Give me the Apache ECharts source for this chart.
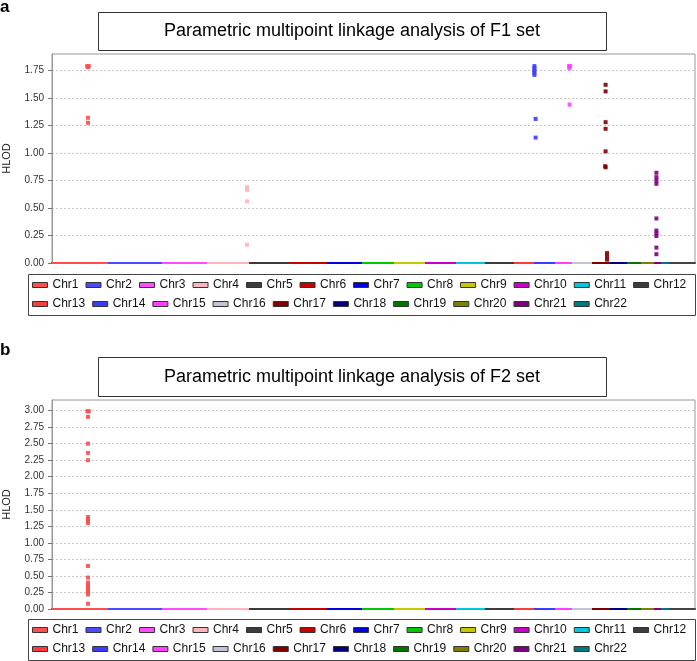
<!DOCTYPE html>
<html><head><meta charset="utf-8">
<script src="https://cdn.jsdelivr.net/npm/echarts@6/dist/echarts.min.js"></script>
<style>html,body{margin:0;padding:0;background:#fff}#c{width:697px;height:661px}</style>
</head><body><div id="c"></div>
<script>
// ---- data ----
const chromosomes = ['Chr1','Chr2','Chr3','Chr4','Chr5','Chr6','Chr7','Chr8','Chr9','Chr10','Chr11','Chr12',
  'Chr13','Chr14','Chr15','Chr16','Chr17','Chr18','Chr19','Chr20','Chr21','Chr22'];
// approximate genetic length of each chromosome (cM) as read from the bottom colored segments
const chrLengths = [280,270,225,210,200,190,175,160,155,155,145,145,100,105,85,100,90,85,70,65,35,40];
const chrColors = ['#ff4c4c','#4c4cff','#ff4cff','#ffb4bc','#3c3c3c','#c80000','#0000e0','#00c800',
  '#c8c800','#c800c8','#00c8dc','#3c3c3c','#ff3a3a','#3c3cff','#ff40ff','#c0c4d8','#800000',
  '#000080','#007800','#808000','#800080','#007880'];
const yTickLabels = ['0.00','0.25','0.50','0.75','1.00','1.25','1.50','1.75','2.00','2.25','2.50','2.75','3.00'];

// F1 set: HLOD peaks [position within chromosome (cM), HLOD]
const f1Chr1  = [[176,1.79],[184,1.79],[180,1.78],[180,1.32],[180,1.275]];
const f1Chr4  = [[200,0.69],[200,0.665],[200,0.56],[200,0.165]];
const f1Chr14 = [[2,1.79],[2,1.77],[2,1.75],[2,1.73],[2,1.71],[8,1.31],[8,1.14]];
const f1Chr15 = [[70,1.79],[76,1.79],[72,1.77],[73,1.44]];
const f1Chr17 = [[68,1.62],[68,1.56],[68,1.28],[68,1.22],[68,1.015],[66,0.88],[68,0.87],[75,0.09],[75,0.06],[75,0.03]];
const f1Chr21 = [[12,0.82],[12,0.78],[12,0.75],[12,0.72],[12,0.405],[12,0.295],[12,0.27],[12,0.245],[12,0.14],[12,0.08]];

// F2 set
const f2Chr1 = [[177,2.99],[184,2.99],[180,2.905],[180,2.50],[180,2.36],[180,2.25],[180,1.39],[180,1.36],[180,1.33],[180,1.30],
  [180,0.65],[180,0.475],[180,0.40],[180,0.37],[180,0.34],[180,0.31],[180,0.28],[180,0.25],[180,0.22],[180,0.08]];

const titleA = 'Parametric multipoint linkage analysis of F1 set';
const titleB = 'Parametric multipoint linkage analysis of F2 set';

// ---- build ----
const f1Peaks = chromosomes.map(() => []);
f1Peaks[0] = f1Chr1; f1Peaks[3] = f1Chr4; f1Peaks[13] = f1Chr14; f1Peaks[14] = f1Chr15; f1Peaks[16] = f1Chr17; f1Peaks[20] = f1Chr21;
const f2Peaks = chromosomes.map(() => []);
f2Peaks[0] = f2Chr1;

const offsets = [];
let acc = 0;
chrLengths.forEach(l => { offsets.push(acc); acc += l; });

const FONT = 'Liberation Sans, Arial, sans-serif';
const series = [];
[f1Peaks, f2Peaks].forEach((peaks, g) => {
  chromosomes.forEach((name, i) => {
    series.push({
      type: 'line', name, xAxisIndex: g, yAxisIndex: g,
      data: [[offsets[i], 0], [offsets[i] + chrLengths[i], 0]],
      symbol: 'none', lineStyle: { color: chrColors[i], width: 2 },
      itemStyle: { color: chrColors[i] }, z: 3, silent: true, animation: false
    });
    series.push({
      type: 'scatter', name, xAxisIndex: g, yAxisIndex: g,
      data: peaks[i].map(p => [offsets[i] + p[0], p[1]]),
      symbol: 'rect', symbolSize: 4,
      itemStyle: { color: chrColors[i], opacity: 0.9 }, z: 4, animation: false
    });
  });
});

const yMaxA = 1.9, yMaxB = 3.16;
function yAxis(g, max) {
  return {
    type: 'value', gridIndex: g, min: 0, max, interval: 0.25,
    name: 'HLOD', nameLocation: 'middle', nameGap: 40, nameRotate: 90,
    nameTextStyle: { fontFamily: FONT, fontSize: 11, color: '#222' },
    axisLine: { show: true, lineStyle: { color: '#999' } },
    axisTick: { show: true, length: 4, lineStyle: { color: '#777' } },
    axisLabel: { fontFamily: FONT, fontSize: 10, color: '#333', margin: 8, showMaxLabel: false,
      formatter: v => yTickLabels[Math.round(v / 0.25)] || '' },
    splitLine: { show: true, lineStyle: { color: '#c8c8c8', type: [2, 2], width: 1 } }
  };
}
function xAxis(g) {
  return {
    type: 'value', gridIndex: g, min: 0, max: 3215,
    axisLine: { show: true, onZero: false, lineStyle: { color: '#444', width: 2 } },
    axisTick: { show: false }, axisLabel: { show: false }, splitLine: { show: false }
  };
}
function legend(names, top) {
  return {
    data: names, left: 32, top, width: 680, orient: 'horizontal', padding: 0,
    icon: 'rect', itemWidth: 15, itemHeight: 5, itemGap: 7,
    itemStyle: { borderColor: '#333', borderWidth: 1 },
    textStyle: { fontFamily: FONT, fontSize: 12, color: '#111', padding: [0, 0, 0, 0] }
  };
}
const row1 = chromosomes.slice(0, 12), row2 = chromosomes.slice(12);

const gridBase = { left: 52, right: 2, height: 209, show: true, borderColor: '#999', borderWidth: 1,
  backgroundColor: '#fff', containLabel: false, outerBoundsMode: 'none' };
const option = {
  animation: false,
  backgroundColor: '#fff',
  grid: [
    Object.assign({}, gridBase, { top: 54 }),
    Object.assign({}, gridBase, { top: 400 })
  ],
  xAxis: [xAxis(0), xAxis(1)],
  yAxis: [yAxis(0, yMaxA), yAxis(1, yMaxB)],
  legend: [legend(row1, 279), legend(row2, 298), legend(row1, 624), legend(row2, 643)],
  series,
  graphic: [
    { type: 'text', left: 0, top: -1, style: { text: 'a', font: 'bold 17px ' + FONT, fill: '#000' } },
    { type: 'text', left: 0, top: 342, style: { text: 'b', font: 'bold 17px ' + FONT, fill: '#000' } },
    { type: 'rect', shape: { x: 98.5, y: 12.5, width: 508, height: 38 }, style: { fill: '#fff', stroke: '#333', lineWidth: 1 }, z: 10 },
    { type: 'text', x: 352, y: 31.5, style: { text: titleA, font: '18px ' + FONT, fill: '#000', align: 'center', verticalAlign: 'middle' }, z: 11 },
    { type: 'rect', shape: { x: 98.5, y: 357.5, width: 508, height: 39 }, style: { fill: '#fff', stroke: '#333', lineWidth: 1 }, z: 10 },
    { type: 'text', x: 352, y: 377, style: { text: titleB, font: '18px ' + FONT, fill: '#000', align: 'center', verticalAlign: 'middle' }, z: 11 },
    { type: 'rect', shape: { x: 28.5, y: 274.5, width: 667, height: 41 }, style: { fill: 'none', stroke: '#444', lineWidth: 1 }, z: 10 },
    { type: 'rect', shape: { x: 28.5, y: 619.5, width: 667, height: 41 }, style: { fill: 'none', stroke: '#444', lineWidth: 1 }, z: 10 }
  ]
};
const chart = echarts.init(document.getElementById('c'), null, { renderer: 'canvas' });
chart.setOption(option);
</script>
</body></html>
